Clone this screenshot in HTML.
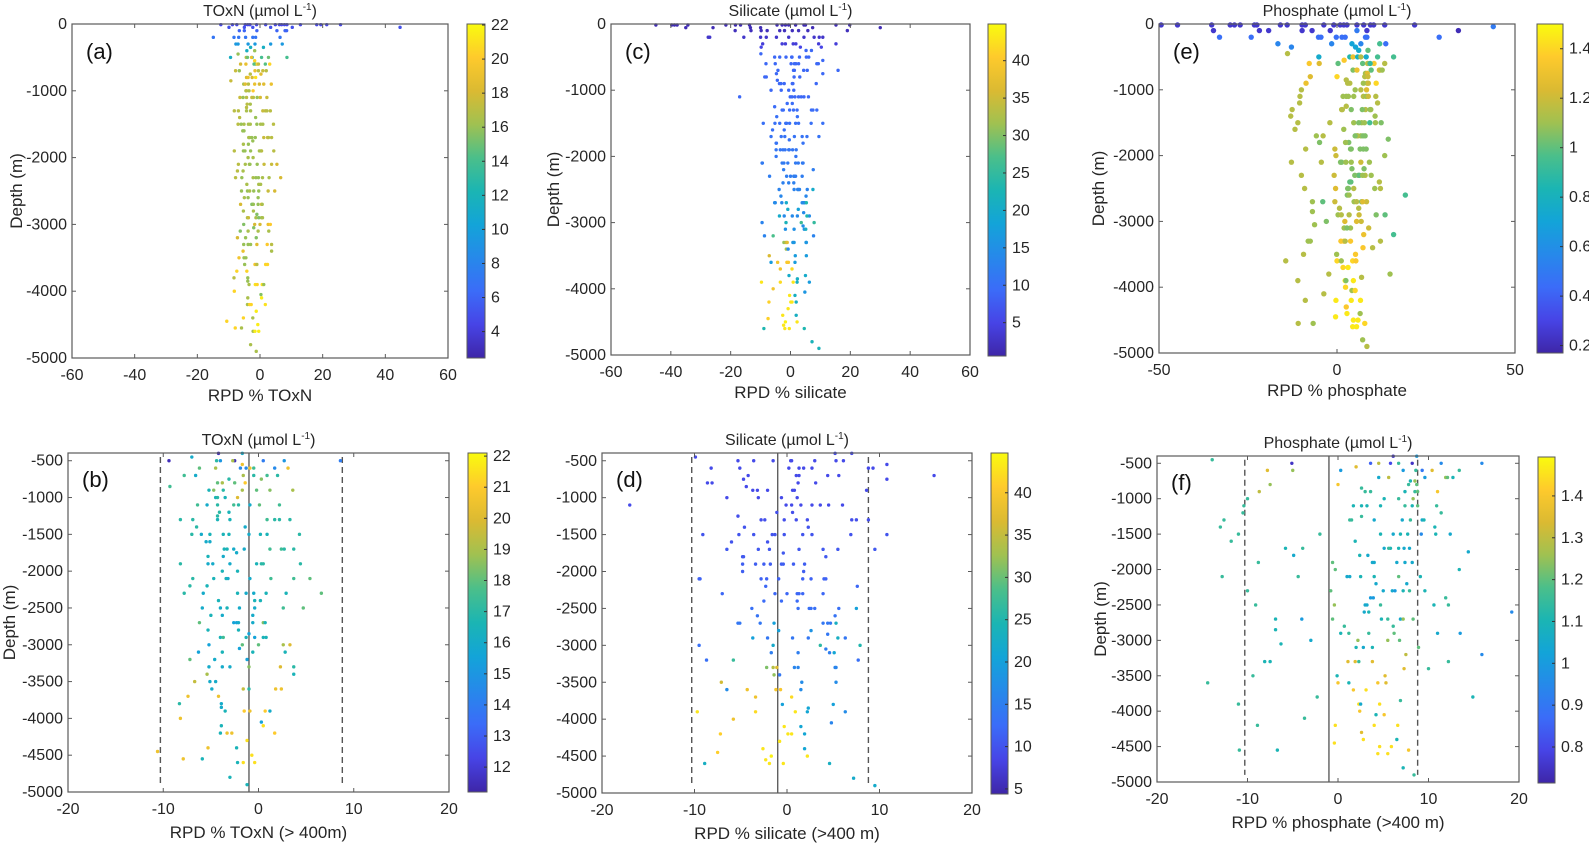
<!DOCTYPE html>
<html><head><meta charset="utf-8"><title>RPD nutrient depth profiles</title>
<style>
html,body{margin:0;padding:0;background:#fff;}
svg{display:block;font-family:"Liberation Sans",Arial,sans-serif;}
</style></head>
<body>
<svg id="fig" width="1589" height="843" viewBox="0 0 1589 843" xmlns="http://www.w3.org/2000/svg">
<defs>
<linearGradient id="parula" x1="0" y1="1" x2="0" y2="0">
<stop offset="0" stop-color="#3e26a8"/><stop offset="0.1" stop-color="#4744e6"/><stop offset="0.2" stop-color="#3b6cf8"/><stop offset="0.3" stop-color="#2689ea"/><stop offset="0.4" stop-color="#13a4d8"/><stop offset="0.5" stop-color="#1bb5b3"/><stop offset="0.6" stop-color="#4bbf8a"/><stop offset="0.7" stop-color="#a0c151"/><stop offset="0.8" stop-color="#dbba32"/><stop offset="0.9" stop-color="#feca2c"/><stop offset="1" stop-color="#f9fb0e"/>
</linearGradient>
</defs>
</svg>
<script>
// ---- TOxN data: [depth m, concentration µmol/L, [RPD % values]] ----
const toxnRows = [
[-10,4.5,[-12.5,-8.8,-7.4,-4.7,-3.9,-3.2,-1.1,1.8,4.9,6.2,6.9,7.8,8.6,12.9,18.1,19.4,21.3,25.7]],
[-50,5,[44.7,-9.9,-5,-2.3,3.4,10.3]],
[-100,6,[-6.6,-5,-1,5.4,8.5,8]],
[-200,7,[-14.9,-8.3,-6.8,-4.6,-2.3,-1.4,6.4]],
[-300,9.5,[-7.7,-7,-3.8,-1.6,3.4,7.1]],
[-350,11.5,[-3,1.1]],
[-400,11.5,[-4.2]],[-400,16,[-1.7]],[-450,16,[-7]],
[-500,11.5,[-9.4,-2.5]],[-500,17,[-4.4]],[-500,15,[-4,2.7]],[-500,19,[-2.7]],[-500,14,[0.5,8.6]],
[-550,20.5,[-1.7]],
[-600,18,[-6.2]],[-600,19,[-4.5]],[-600,14.5,[-1.9,-1.3,1.7]],[-600,20.5,[-0.9,3.1]],[-600,17.5,[-0.5]],
[-700,17.5,[-7.8,0.9]],[-700,16,[-6.6]],[-700,19,[-1.6]],[-700,17,[-0.5,2]],
[-750,17,[-3.1]],[-750,18.5,[0.3]],
[-800,18,[-4.3,-2.5]],[-800,19,[-3.8]],[-800,21,[-1.4]],[-850,17.5,[-9.3]],
[-900,16.5,[-5.2]],[-900,18.5,[-4.7,1.2]],[-900,17,[-3.7]],[-900,19,[-1.7,3.6]],[-900,18,[-0.2]],
[-1000,16.5,[-4.5,-3.5]],[-1000,17,[-4.3]],[-1000,20,[-2.2]],
[-1100,17.5,[-6.4,-2.6,2.2]],[-1100,16,[-5.4,-0.9]],[-1100,17,[-4.3,-2.1]],[-1100,18,[0.1]],
[-1200,17,[-4.1]],[-1200,16.5,[-3.1]],[-1250,17,[-4.3]],
[-1300,17,[-8.2,-6.9,1.7,2.2,3.3]],[-1300,16.5,[-4.3,-3]],[-1300,17.5,[0.9]],
[-1400,17,[-6.5]],[-1400,16,[-1.4]],
[-1500,17,[-7,4.3]],[-1500,16,[-6,-1]],[-1500,16.5,[-5.1,-3.7,-3.1,0.2,0.9]],
[-1600,16,[-5.5,-5.1]],
[-1700,16.5,[-3.6,-3.3]],[-1700,16,[-2.6,-1.5]],[-1700,17.5,[1.2,2.4]],[-1700,17,[2.7,3.7]],
[-1750,16,[-2.3]],[-1800,16.5,[-5.3]],[-1800,16,[-3.7]],
[-1900,17,[-8.2,0.3,0.5,4.4]],[-1900,16,[-5.3,-4.8,-3]],[-1900,16.5,[-0.2]],
[-2000,16.5,[-3.8,-2.2]],
[-2100,17,[-6.9]],[-2100,16.5,[-4.7,-3.4]],[-2100,16,[-3.2,-0.9]],[-2100,17.5,[1.3,3.7]],[-2100,18,[5.4]],
[-2200,17,[-7.2]],[-2200,16.5,[-5.4]],
[-2300,17,[-7.8]],[-2300,16,[-5.8,-1.3,-0.5]],[-2300,16.5,[-2.2,0.8,2.9]],[-2300,18,[6.6]],
[-2400,16.5,[-4.2,-0.4,0.2]],
[-2500,16,[-5.9,-4,-2,-0.4]],[-2500,16.5,[-3.3]],[-2500,17.5,[2.6]],[-2500,18,[4.7]],
[-2600,16.5,[-5]],[-2600,16,[-3.8,-0.6]],
[-2700,18,[-6.2]],[-2700,15.5,[-2.6,-2.3]],[-2700,16,[-2.1,-0.6]],[-2700,18.5,[0.5]],[-2700,16.5,[0.7]],
[-2800,16.5,[-5.3,-2.1]],[-2850,15.5,[-1]],
[-2900,16.5,[-4,-1.3,0.5,0.8]],[-2900,17.5,[-3.7]],[-2900,15.5,[-0.4]],
[-3000,15.5,[-5.2]],[-3000,18,[-1.7,0]],[-3000,19,[2.6]],[-3000,20,[3.3]],
[-3050,15.5,[-2]],[-3100,15.5,[-6.3]],[-3100,16.5,[-3.8,-0.6,2.8]],
[-3200,18,[-7.2]],[-3200,16,[-4.6]],[-3200,15.5,[-1.2]],
[-3300,16,[-5.2,-3.8,-3]],[-3300,18.5,[-1]],[-3300,20,[2.3]],[-3300,17,[3.7]],
[-3400,19,[-5.4]],[-3400,16.5,[3.7]],
[-3500,19.5,[-6.7]],[-3500,16,[-5.1,-4.5]],
[-3600,16,[-4.9]],[-3600,19.5,[-1.6]],[-3600,17,[-1]],[-3600,20.5,[1.8,2.4]],
[-3700,20.5,[-7.4,-4.2]],[-3800,17,[-8.3]],[-3800,16,[-3.9]],[-3850,16,[-3.9]],
[-3900,16.5,[-3.5]],[-3900,21,[-1.5,0.7]],[-3900,20.5,[-0.9]],[-3900,16,[1.2]],
[-4000,20.5,[-8.2]],[-4050,15.5,[0.3]],[-4100,16.5,[-3.9]],[-4100,21.5,[0.5]],
[-4200,16.5,[-4]],[-4200,20.5,[-3.3,-2.8]],[-4200,21,[1.7]],
[-4300,21.5,[-1.2]],[-4400,20.5,[-5.3]],[-4400,16.5,[-2.3]],[-4450,20.5,[-10.6]],
[-4500,21.5,[-0.7]],[-4550,20.5,[-7.9]],[-4550,16.5,[-5.9]],
[-4600,16.5,[-2.2]],[-4600,21.5,[-1.6,-0.4]],[-4800,16.5,[-3]],[-4900,16.5,[-1.2]]
];
// ---- Silicate data ----
const silicateRows = [
[-15,1.5,[-45,-39.7,-38.8,-37.9,-34.3,-21.6,-18.4,-16.7,-13.7,-4.5,-2.8,-1.7,-0.6,1.7,4.5,5,15.2,19.8]],
[-55,1.5,[-35,-25.9,-13.4,-10,7.4,30]],
[-100,2,[-18.5,-13.2,-9.8,-7.8,-3.6,-2,0.6,2.7,5.8,19]],
[-200,3,[-27.5,-27,-15.6,-10,-8.1,-4.7,-0.6,4.5,7.9,9.6,10.8]],
[-300,4,[-9.3,-2.8,-1.7,0.9,1.8,9.4,15.2]],
[-350,5,[-9.8,3.3,10.3]],
[-400,9,[5.2,7]],[-450,9,[-9.9]],[-500,9,[-5.3,-3.6,-1.5,0.4,0.5,3,5.3,6.1]],[-550,9,[10.8]],
[-600,9,[-8.2,-5.1,0.2,1.3,1.8,2.7,8.8,9.3]],[-700,9,[-4.2,1,1.3,4.4,5.6,15.9]],[-750,9,[-4.7,10.8]],
[-800,9,[-8.6,-8.1,1.2,3.1]],[-850,9,[-4.4]],[-900,9,[-3.7,-3.2,-2.1,0.6,0.8,8.6]],
[-1000,9,[-6.5,-3.1,-0.6,1.1]],[-1100,9,[-17,-0.1,0.5,1.5,2.7,3.6,4.5,6]],
[-1200,9.5,[-1.1,0.6]],[-1250,9.5,[-5.3]],[-1300,9.5,[-2.8,-2.4,-0.3,1,2.2,7,7.5,8.8]],
[-1400,10,[-4.6,2.3]],[-1500,10,[-9.1,-5.2,-3.6,-1.6,-1.3,-0.3,1.7,2.7,6.9,10.8]],[-1600,10,[-6,-2.1]],
[-1700,10.5,[-6.5,-3.1,-1.9,1.3,3.9,5.5,9.5]],[-1750,10.5,[-0.4]],[-1800,10.5,[-4.8,-4.7,4.2]],
[-1900,11,[-4.8,-3.4,-2.5,-1.8,-0.6,-0.4,0.7,1.9]],[-2000,11,[-4.8,1.8]],
[-2100,11.5,[-9.5,-9.4,-2.8,-2.2,-0.9,1.7,2.6,4,4.2]],[-2200,12,[-2.3,7.6]],
[-2300,12,[-7,-1.3,0,1.1,1.3,1.7,3.9]],[-2400,12.5,[-2.5,-0.6,1.1]],
[-2500,13,[-3.8,1.2,2.4,2.6,3,5.6]],[-2500,20,[7.5]],[-2600,13.5,[-3.2,5.2]],
[-2700,14,[-5.3,-5.1,-2.9,3.9,4.4,4.7]],[-2700,20,[-1.4]],[-2700,23,[5.3]],
[-2800,20,[-0.9]],[-2800,18,[2.6]],[-2850,14,[4.4]],
[-2900,20,[-3.7]],[-2900,14,[-2.1,0.6,2.3,6.3]],[-2900,23,[5.5]],
[-3000,13,[-9.5]],[-3000,22,[-1.5]],[-3000,26,[3.6]],[-3000,25,[7.9]],[-3050,15,[4.2]],
[-3100,15,[-1.7,1.2,4.6]],[-3100,21,[5.1]],[-3200,13,[-8.7,7.7]],[-3200,27,[-5.8]],
[-3300,31,[-2.2]],[-3300,34,[-1.5]],[-3300,37,[-1.1]],[-3300,16,[0.8,1.2,5.2,5.3]],
[-3400,32,[-1.4]],[-3400,14,[-0.8]],[-3500,36,[-7.1]],[-3500,17,[1.6,5.3]],
[-3600,17,[-6.5,1.5]],[-3600,39,[-4.3]],[-3600,40,[-1.2,-0.7]],
[-3700,39,[-3.4]],[-3700,42,[0.5]],[-3800,20,[-0.5,5]],[-3850,21,[2.3]],
[-3900,43,[-9.7,0.9]],[-3900,42,[-3.4]],[-3900,21,[2.2]],[-3900,17,[6.3]],
[-4000,39,[-5.8]],[-4050,16,[4.8]],[-4100,43,[-0.3]],[-4100,21,[1.5]],
[-4200,41,[-7.2]],[-4200,43,[0.1,0.5]],[-4200,21,[1.9]],[-4300,43,[-0.8]],
[-4400,43,[-2.6]],[-4400,21,[1.9]],[-4450,41,[-7.5]],[-4500,44,[-1.7]],[-4500,43,[2.2]],
[-4550,43,[-2.3]],[-4600,23,[-8.9,4.6]],[-4600,43,[-1.9,-0.4]],[-4800,22,[7.2]],[-4900,22,[9.5]]
];
// ---- Phosphate data ----
const phosphateRows = [
[-15,0.25,[-49.4,-44.8,-35.2,-30,-28.8,-27.2,-23.2,-22.5,-15.9,-14,-9.8,-8.9,-3.7,-0.9,0.9,1.9,2.8,5.6,7.5,9.4,10.3,13.4,21.8]],
[-40,0.5,[43.9]],
[-100,0.25,[-34.7,-21.8,-19.2,-9.8,-7,-1.9,8.4]],[-100,0.2,[34.1]],[-100,0.5,[5.6]],
[-200,0.45,[-33,-24.1,-5.2,-4.5,-0.2,1.4,2.3,8,8.4,28.7]],
[-300,0.55,[-16.6,-1.5,6.7]],[-300,0.7,[4.2]],[-300,0.95,[12]],[-300,0.45,[13.7]],
[-350,0.55,[-12.8]],[-350,0.7,[5.2]],
[-400,0.75,[6.1]],[-400,1.0,[8.7]],[-450,1.15,[-13.9]],
[-500,0.75,[-5.1,8.2]],[-500,0.85,[3.6]],[-500,1.3,[4.5]],[-500,0.8,[5.8]],[-500,1.15,[6.7]],[-500,0.95,[11.4,15.9]],
[-550,1.35,[2]],
[-600,1.35,[-7.8,10.4]],[-600,1.25,[-5]],[-600,1,[0.3,7.2]],[-600,1.15,[8.6,13.4]],[-600,0.9,[9.3]],
[-700,1.05,[4.5]],[-700,1.3,[5.6]],[-700,1,[9.6]],[-700,1.25,[11.9]],[-700,1.2,[12.1]],[-700,1.1,[12.7]],
[-750,1.1,[8]],[-750,1.25,[8.5]],
[-800,1.25,[-7.5]],[-800,1.4,[0]],[-800,1.15,[7.8]],[-800,1.2,[8.7]],[-850,1.15,[2.6]],
[-900,1.3,[-8.7]],[-900,1.15,[3,3.6,8.5]],[-900,1.1,[7.4]],[-900,1.2,[8.8]],[-900,1.4,[11]],
[-1000,1.15,[-10,6.7]],[-1000,1.1,[5.1]],[-1000,1.25,[8.3]],
[-1100,1.15,[-10.4,7.4,10.9]],[-1100,1.1,[1.7,2.6,3.2,4.7,8.2]],[-1100,1.2,[8.8]],
[-1200,1.15,[-10.5,11.4]],[-1250,1.15,[2.6]],
[-1300,1.15,[-12.6,1.3,1.5,8]],[-1300,1.05,[4,7.1,9.3]],[-1300,1.1,[9.5]],
[-1400,1.15,[-13]],[-1400,1.1,[10.7]],
[-1500,1.15,[-11,-2]],[-1500,1.1,[4.7,6.9,7.7,10.8]],[-1500,1.05,[6.1,12.4]],[-1500,0.95,[9.2]],
[-1600,1.15,[-11.8]],[-1600,1.1,[1.9]],
[-1700,1.1,[-5.8,5.8,6.7]],[-1700,1.15,[-3.9,5.6]],[-1700,1.05,[5.1,7.3,7.9]],[-1750,1.05,[14.4]],
[-1800,1.05,[-4.9,3.3]],[-1800,1.1,[2.4]],
[-1900,1.15,[-8.8]],[-1900,1.2,[-0.6]],[-1900,1.05,[3.8,4,6.5,7.4,8.2]],
[-2000,1.2,[-0.3]],[-2000,1.1,[13.4]],
[-2100,1.15,[-12.8,-4.4]],[-2100,1.05,[1,1.3]],[-2100,1.1,[2.5,4,9.1]],[-2100,1.2,[6.7]],
[-2200,1.05,[4.2,7.6]],
[-2300,1.15,[-10,7.9]],[-2300,1.2,[-0.8]],[-2300,1.05,[5,6]],[-2300,1,[6.3]],[-2300,1.1,[7.2,9.6]],
[-2400,1,[3.6,3.9]],[-2400,1.15,[11.9]],
[-2500,1.15,[-9.1,4.7,12.2]],[-2500,1.25,[-0.4]],[-2500,1.05,[3,3.2]],[-2500,1.1,[10.6]],
[-2600,1.05,[2.9]],[-2600,1.1,[3.4]],[-2600,0.95,[19.2]],
[-2700,1.1,[-6.9,4.8]],[-2700,1,[-4]],[-2700,1.2,[-0.6,8.3]],[-2700,1.15,[5.5]],[-2700,1.05,[6.9]],[-2700,1.25,[7.2]],
[-2800,1.15,[0.7,6.1]],[-2850,1.1,[-6.9]],
[-2900,1.1,[0.3]],[-2900,1.15,[1.2,3.4]],[-2900,1.2,[6.2]],[-2900,1.05,[11]],[-2900,1,[13.5]],
[-3000,1.05,[-3]],[-3000,1.25,[2.2,5.5]],[-3000,1.2,[6.8]],[-3050,1.1,[-6.3]],
[-3100,1.1,[2,3.8]],[-3100,1.05,[2.8]],[-3100,1.2,[8.9]],
[-3200,1.3,[7.5]],[-3200,0.95,[15.9]],
[-3300,1.1,[-8.1,-7.5]],[-3300,1.35,[1.1,1.9,3.8]],[-3300,1.15,[2.3,12.2]],
[-3400,1.35,[7.3]],[-3400,1.15,[10]],
[-3500,1.15,[-9.4]],[-3500,1.1,[-0.1]],[-3500,1.35,[5.2]],
[-3600,1.15,[-14.4]],[-3600,1.4,[0,4.4]],[-3600,1.1,[1.2]],[-3600,1.35,[5.3]],
[-3700,1.4,[1.7]],[-3700,1.45,[3.1]],
[-3800,1.15,[-2.3]],[-3800,1.1,[14.9]],[-3850,1.15,[6.9]],
[-3900,1.15,[-11]],[-3900,1.45,[2.3,4.6]],[-3900,1.05,[2.5]],
[-4000,1.4,[2.4]],[-4050,1.1,[4.2]],[-4050,1.4,[5.1]],[-4100,1.15,[-3.7]],
[-4200,1.15,[-8.9]],[-4200,1.45,[-0.3,4,6.6]],
[-4300,1.35,[2.6]],[-4400,1.45,[2.8]],[-4400,1.1,[6.5]],[-4450,1.45,[-0.4]],
[-4500,1.45,[4.6,5.9]],[-4550,1.15,[-10.9]],[-4550,1.1,[-6.7]],[-4550,1.4,[7.8]],
[-4600,1.45,[4.4,5.5]],[-4800,1.1,[7.2]],[-4900,1.15,[8.4]]
];
// ---- tick labels ----
const xTicksWide = [-60,-40,-20,0,20,40,60];
const xTicksPhos = [-50,0,50];
const xTicksDeep = [-20,-10,0,10,20];
const yTicksFull = [0,-1000,-2000,-3000,-4000,-5000];
const yTicksDeep = [-500,-1000,-1500,-2000,-2500,-3000,-3500,-4000,-4500,-5000];
const cTicksA = [4,6,8,10,12,14,16,18,20,22];
const cTicksB = [12,13,14,15,16,17,18,19,20,21,22];
const cTicksCD = [5,10,15,20,25,30,35,40];
const cTicksE = [0.2,0.4,0.6,0.8,1,1.2,1.4];
const cTicksF = [0.8,0.9,1,1.1,1.2,1.3,1.4];
const deepLimits = [-10.3, 8.8];
const meanLine = [-1.0];

const NS = "http://www.w3.org/2000/svg";
const svg = document.getElementById('fig');
const stops = [[0,[62,38,168]],[0.1,[71,68,230]],[0.2,[59,108,248]],[0.3,[38,137,234]],[0.4,[19,164,216]],[0.5,[27,181,179]],[0.6,[75,191,138]],[0.7,[160,193,81]],[0.8,[219,186,50]],[0.9,[254,202,44]],[1,[249,251,14]]];
function parula(t){
  t=Math.max(0,Math.min(1,t));
  for(let i=1;i<stops.length;i++){
    if(t<=stops[i][0]){
      const a=stops[i-1],b=stops[i],f=(t-a[0])/(b[0]-a[0]);
      const c=a[1].map((v,k)=>Math.round(v+(b[1][k]-v)*f));
      return 'rgb('+c.join(',')+')';
    }
  }
  return 'rgb(249,251,14)';
}
function mk(tag, attrs, parent){
  const e=document.createElementNS(NS,tag);
  for(const k in attrs) e.setAttribute(k,attrs[k]);
  (parent||svg).appendChild(e);
  return e;
}
const TXT='#262626', AX='#5a5a5a';

const panels = [
 {id:'a',rows:toxnRows,deep:false,box:{x:72,y:24,w:376,h:334},xd:[-60,60],yd:[0,-5000],xt:xTicksWide,yt:yTicksFull,
  cb:{x:467,y:24,w:18,h:334},cd:[2.45,22.06],ct:cTicksA,title:'TOxN',xl:'RPD % TOxN',yl:16,r:1.7},
 {id:'b',rows:toxnRows,deep:true,box:{x:68,y:453,w:381,h:339},xd:[-20,20],yd:[-395,-5000],xt:xTicksDeep,yt:yTicksDeep,
  cb:{x:468,y:453,w:19,h:339},cd:[11.2,22.1],ct:cTicksB,title:'TOxN',xl:'RPD % TOxN (> 400m)',yl:9,r:1.7},
 {id:'c',rows:silicateRows,deep:false,box:{x:611,y:24,w:359,h:331},xd:[-60,60],yd:[0,-5000],xt:xTicksWide,yt:yTicksFull,
  cb:{x:988,y:24,w:18,h:332},cd:[0.55,44.9],ct:cTicksCD,title:'Silicate',xl:'RPD % silicate',yl:553,r:1.7},
 {id:'d',rows:silicateRows,deep:true,box:{x:602,y:453,w:370,h:340},xd:[-20,20],yd:[-395,-5000],xt:xTicksDeep,yt:yTicksDeep,
  cb:{x:991,y:453,w:17,h:341},cd:[4.4,44.7],ct:cTicksCD,title:'Silicate',xl:'RPD % silicate (>400 m)',yl:null,r:1.7},
 {id:'e',rows:phosphateRows,deep:false,box:{x:1159,y:24,w:356,h:329},xd:[-50,50],yd:[0,-5000],xt:xTicksPhos,yt:yTicksFull,
  cb:{x:1537,y:24,w:26,h:329},cd:[0.17,1.5],ct:cTicksE,title:'Phosphate',xl:'RPD % phosphate',yl:1098,r:2.7},
 {id:'f',rows:phosphateRows,deep:true,box:{x:1157,y:456,w:362,h:326},xd:[-20,20],yd:[-397,-5000],xt:xTicksDeep,yt:yTicksDeep,
  cb:{x:1538,y:457,w:17,h:326},cd:[0.714,1.493],ct:cTicksF,title:'Phosphate',xl:'RPD % phosphate (>400 m)',yl:1100,r:1.7}
];

panels.forEach(p=>{
  const b=p.box;
  const sx=v=>b.x+(v-p.xd[0])/(p.xd[1]-p.xd[0])*b.w;
  const sy=v=>b.y+(v-p.yd[0])/(p.yd[1]-p.yd[0])*b.h;
  const sc=v=>p.cb.y+p.cb.h-(v-p.cd[0])/(p.cd[1]-p.cd[0])*p.cb.h;
  const g=mk('g',{});
  
  
  const bg=mk('rect',{x:b.x,y:b.y,width:b.w,height:b.h,fill:'#fff'},g);
  
  
  if(p.deep){
    deepLimits.forEach(v=>{
      const l=mk('line',{x1:sx(v),x2:sx(v),y1:sy(-450),y2:sy(-4900),stroke:'#555','stroke-width':1.4,'stroke-dasharray':'6,4'},g);
      
      
    });
    meanLine.forEach(v=>{
      const l=mk('line',{x1:sx(v),x2:sx(v),y1:b.y,y2:b.y+b.h,stroke:'#444','stroke-width':1.2},g);
      
      
    });
  }
  p.rows.forEach(row=>{
    const d=row[0], c=row[1];
    if(p.deep && d>-400) return;
    row[2].forEach(x=>{
      if(x<p.xd[0]||x>p.xd[1]) return;
      const pt=mk('circle',{cx:sx(x),cy:sy(d),r:p.r,fill:parula((c-p.cd[0])/(p.cd[1]-p.cd[0]))},g);
      
      
    });
  });
  const fr=mk('rect',{x:b.x,y:b.y,width:b.w,height:b.h,fill:'none',stroke:AX,'stroke-width':1.2},g);
  
  
  p.xt.forEach(v=>{
    const x=sx(v);
    mk('line',{x1:x,x2:x,y1:b.y+b.h,y2:b.y+b.h-4,stroke:AX},g);
    mk('line',{x1:x,x2:x,y1:b.y,y2:b.y+4,stroke:AX},g);
    const t=mk('text',{x:x,y:b.y+b.h+22,'text-anchor':'middle','font-size':16,fill:TXT},g);
    t.textContent=String(v);
    
    
  });
  p.yt.forEach(v=>{
    const y=sy(v);
    mk('line',{x1:b.x,x2:b.x+4,y1:y,y2:y,stroke:AX},g);
    mk('line',{x1:b.x+b.w,x2:b.x+b.w-4,y1:y,y2:y,stroke:AX},g);
    const t=mk('text',{x:b.x-5,y:y+5,'text-anchor':'end','font-size':16,fill:TXT},g);
    t.textContent=String(v);
    
    
  });
  const tt=mk('text',{x:b.x+b.w/2,y:p.deep?b.y-8:16,'text-anchor':'middle','font-size':16,fill:TXT},g);
  
  
  tt.appendChild(document.createTextNode(p.title+' (\u00b5mol L'));
  const sup=mk('tspan',{'font-size':10,dy:-6},tt); sup.textContent='-1';
  const cl=mk('tspan',{dy:6},tt); cl.textContent=')';
  const xl=mk('text',{x:b.x+b.w/2,y:b.y+b.h+(p.deep?46:43),'text-anchor':'middle','font-size':17,fill:TXT},g);
  xl.textContent=p.xl;
  
  
  if(p.yl!==null){
    const cy=b.y+b.h/2;
    const yl=mk('text',{x:p.yl,y:cy,'text-anchor':'middle','font-size':17,fill:TXT,transform:'rotate(-90 '+p.yl+' '+cy+')',dy:6},g);
    yl.textContent='Depth (m)';
    
    
  }
  const lt=mk('text',{x:b.x+14,y:b.y+(p.deep?34:35),'font-size':22,fill:'#111'},g);
  lt.textContent='('+p.id+')';
  
  
  const cbr=mk('rect',{x:p.cb.x,y:p.cb.y,width:p.cb.w,height:p.cb.h,fill:'url(#parula)',stroke:AX,'stroke-width':1},g);
  
  
  p.ct.forEach(v=>{
    const y=sc(v);
    mk('line',{x1:p.cb.x+p.cb.w,x2:p.cb.x+p.cb.w-3,y1:y,y2:y,stroke:'#333'},g);
    const t=mk('text',{x:p.cb.x+p.cb.w+6,y:y+5,'font-size':16,fill:TXT},g);
    t.textContent=String(v);
    
    
  });
});
</script>
</body></html>
